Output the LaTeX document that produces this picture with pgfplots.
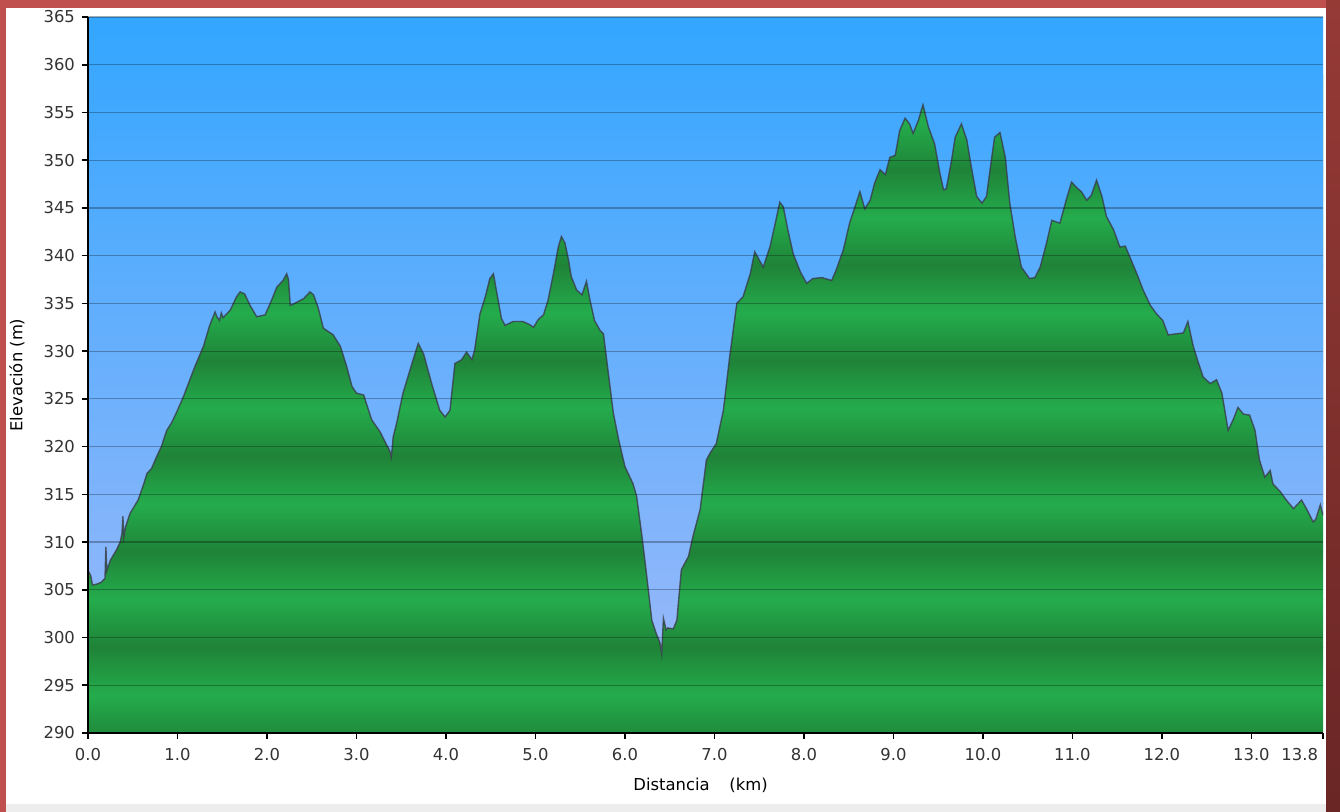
\documentclass[border=0pt]{standalone}
\usepackage{fontspec}
\setmainfont{DejaVu Sans}
\usepackage{pgfplots}
\usepackage{pgfplotstable}
\pgfplotsset{compat=1.18}
\definecolor{gdark}{RGB}{31,131,56}
\definecolor{glight}{RGB}{36,172,76}
\definecolor{skytop}{RGB}{51,166,255}
\definecolor{skybot}{RGB}{150,184,250}
\definecolor{frred}{RGB}{192,80,77}
\definecolor{frdarka}{RGB}{150,58,54}
\definecolor{frdarkb}{RGB}{105,38,37}
\definecolor{edge}{RGB}{55,60,70}
\pgfplotstableread{
x y
0.00 307.0
0.03 306.5
0.05 305.5
0.10 305.6
0.15 305.8
0.19 306.2
0.20 309.5
0.21 307.0
0.25 308.1
0.32 309.2
0.36 310.0
0.38 310.9
0.39 312.7
0.40 310.5
0.42 311.6
0.47 313.0
0.56 314.4
0.62 316.0
0.66 317.2
0.71 317.7
0.76 318.8
0.82 320.0
0.88 321.7
0.935 322.5
1.00 323.8
1.065 325.2
1.13 326.8
1.195 328.4
1.29 330.5
1.36 332.7
1.42 334.1
1.44 333.6
1.47 333.2
1.49 334.0
1.51 333.5
1.59 334.3
1.66 335.7
1.70 336.2
1.75 336.0
1.81 334.8
1.885 333.6
1.98 333.8
2.05 335.3
2.11 336.7
2.18 337.4
2.22 338.1
2.24 337.5
2.26 334.8
2.31 335.0
2.41 335.5
2.48 336.2
2.52 335.9
2.57 334.6
2.63 332.4
2.74 331.7
2.82 330.5
2.89 328.4
2.95 326.3
3.00 325.6
3.08 325.4
3.17 322.8
3.26 321.6
3.33 320.3
3.37 319.6
3.39 318.9
3.41 321.0
3.45 322.5
3.52 325.6
3.62 328.7
3.69 330.8
3.75 329.7
3.84 326.6
3.93 323.8
3.99 323.1
4.045 323.8
4.10 328.7
4.175 329.1
4.23 329.9
4.29 329.1
4.32 330.1
4.38 333.9
4.44 335.7
4.49 337.6
4.53 338.1
4.57 336.0
4.62 333.4
4.66 332.7
4.75 333.1
4.86 333.1
4.93 332.8
4.98 332.5
5.03 333.3
5.09 333.8
5.14 335.3
5.20 338.1
5.255 340.9
5.29 342.0
5.33 341.3
5.37 339.5
5.40 337.8
5.46 336.4
5.52 335.9
5.57 337.3
5.61 335.3
5.66 333.2
5.72 332.2
5.76 331.8
5.81 328.0
5.87 323.5
5.93 320.7
6.00 317.9
6.09 316.1
6.13 314.8
6.19 310.6
6.24 306.7
6.30 301.8
6.35 300.4
6.39 299.5
6.41 298.3
6.43 302.0
6.46 300.8
6.48 301.0
6.54 300.9
6.58 301.8
6.63 307.1
6.71 308.5
6.76 310.6
6.84 313.4
6.91 318.6
6.95 319.3
7.02 320.3
7.10 323.8
7.17 329.4
7.25 335.0
7.32 335.7
7.40 338.1
7.45 340.4
7.545 338.8
7.62 340.9
7.68 343.4
7.73 345.6
7.77 345.1
7.82 342.7
7.88 340.2
7.96 338.3
8.03 337.1
8.10 337.6
8.20 337.7
8.31 337.4
8.36 338.5
8.44 340.6
8.51 343.4
8.57 345.1
8.625 346.7
8.68 344.9
8.74 345.8
8.79 347.6
8.85 349.0
8.91 348.5
8.96 350.3
9.02 350.5
9.07 353.1
9.13 354.4
9.18 353.8
9.22 352.8
9.28 354.2
9.33 355.8
9.39 353.5
9.46 351.7
9.52 348.6
9.56 346.9
9.59 347.0
9.65 350.0
9.69 352.4
9.76 353.8
9.82 352.1
9.87 349.3
9.93 346.2
9.99 345.5
10.04 346.2
10.08 349.0
10.13 352.4
10.19 352.9
10.25 350.3
10.30 345.5
10.36 342.0
10.43 338.8
10.52 337.6
10.58 337.7
10.64 338.8
10.71 341.3
10.77 343.7
10.86 343.4
10.93 345.8
10.99 347.7
11.05 347.1
11.10 346.7
11.16 345.8
11.21 346.3
11.27 347.9
11.33 346.2
11.38 344.1
11.46 342.7
11.53 340.9
11.59 341.0
11.64 339.9
11.72 338.1
11.79 336.4
11.87 334.8
11.94 333.9
12.01 333.2
12.07 331.7
12.15 331.8
12.24 331.9
12.29 333.1
12.35 330.5
12.41 328.7
12.46 327.3
12.54 326.6
12.61 327.0
12.67 325.6
12.74 321.7
12.80 322.9
12.85 324.1
12.91 323.4
12.98 323.3
13.04 321.7
13.09 318.6
13.15 316.8
13.21 317.5
13.24 316.1
13.32 315.3
13.39 314.4
13.47 313.5
13.56 314.4
13.62 313.4
13.69 312.1
13.72 312.4
13.77 313.9
13.80 312.8
}\elev

\begin{document}
\begin{tikzpicture}
\fill[white] (-44pt,-39.5pt) rectangle (626pt,366.5pt);
\fill[black!7] (-44pt,-39.5pt) rectangle (626pt,-35.5pt);
\begin{axis}[
  at={(0pt,0pt)}, anchor=south west,
  scale only axis, width=617.5pt, height=358pt,
  xmin=0, xmax=13.8, ymin=290, ymax=365,
  xtick={0,1,2,3,4,5,6,7,8,9,10,11,12,13},
  xticklabels={0.0,1.0,2.0,3.0,4.0,5.0,6.0,7.0,8.0,9.0,10.0,11.0,12.0,13.0},
  extra x ticks={13.8},
  extra x tick labels={13.8},
  extra x tick style={xticklabel style={anchor=north east, xshift=1pt}},
  ytick={290,295,...,365},
  axis lines=left,
  axis line style={-, line width=1pt, black},
  tick align=outside, major tick length=3pt,
  tick style={black, line width=0.8pt},
  ymajorgrids, grid style={black, opacity=0.28, line width=0.6pt},
  axis on top,
  font=\fontsize{8.2}{10}\selectfont,
  /pgf/number format/assume math mode=true,
  tick label style={text=black!80},
  xticklabel style={yshift=-1pt},
  xlabel={Distancia\hspace{1.2em}(km)},
  ylabel={Elevación (m)},
  every axis y label/.style={at={(axis description cs:-0.0575,0.5)}, rotate=90, anchor=center},
  every axis x label/.style={at={(axis description cs:0.496,-0.0726)}, anchor=center},
]
% green banded ground
\addplot[draw=none, bottom color=gdark, top color=glight] coordinates {(0,289)(13.8,289)(13.8,294)(0,294)};
\addplot[draw=none, bottom color=glight, top color=gdark] coordinates {(0,294)(13.8,294)(13.8,299)(0,299)};
\addplot[draw=none, bottom color=gdark, top color=glight] coordinates {(0,299)(13.8,299)(13.8,304)(0,304)};
\addplot[draw=none, bottom color=glight, top color=gdark] coordinates {(0,304)(13.8,304)(13.8,309)(0,309)};
\addplot[draw=none, bottom color=gdark, top color=glight] coordinates {(0,309)(13.8,309)(13.8,314)(0,314)};
\addplot[draw=none, bottom color=glight, top color=gdark] coordinates {(0,314)(13.8,314)(13.8,319)(0,319)};
\addplot[draw=none, bottom color=gdark, top color=glight] coordinates {(0,319)(13.8,319)(13.8,324)(0,324)};
\addplot[draw=none, bottom color=glight, top color=gdark] coordinates {(0,324)(13.8,324)(13.8,329)(0,329)};
\addplot[draw=none, bottom color=gdark, top color=glight] coordinates {(0,329)(13.8,329)(13.8,334)(0,334)};
\addplot[draw=none, bottom color=glight, top color=gdark] coordinates {(0,334)(13.8,334)(13.8,339)(0,339)};
\addplot[draw=none, bottom color=gdark, top color=glight] coordinates {(0,339)(13.8,339)(13.8,344)(0,344)};
\addplot[draw=none, bottom color=glight, top color=gdark] coordinates {(0,344)(13.8,344)(13.8,349)(0,349)};
\addplot[draw=none, bottom color=gdark, top color=glight] coordinates {(0,349)(13.8,349)(13.8,354)(0,354)};
\addplot[draw=none, bottom color=glight, top color=gdark] coordinates {(0,354)(13.8,354)(13.8,359)(0,359)};
% sky above the profile
\addplot[draw=none, top color=skytop, bottom color=skybot] table {\elev} -- (rel axis cs:1,1) -- (rel axis cs:0,1) -- cycle;
% profile outline
\addplot[color=edge, line width=0.7pt, opacity=0.8] table {\elev};
\end{axis}
\fill[frred] (-44pt,-39.5pt) rectangle (-41pt,366.5pt);
\fill[frred] (-44pt,362.5pt) rectangle (626pt,366.5pt);
\shade[top color=frdarka, bottom color=frdarkb] (619pt,-39.5pt) rectangle (626pt,366.5pt);
\end{tikzpicture}
\end{document}
